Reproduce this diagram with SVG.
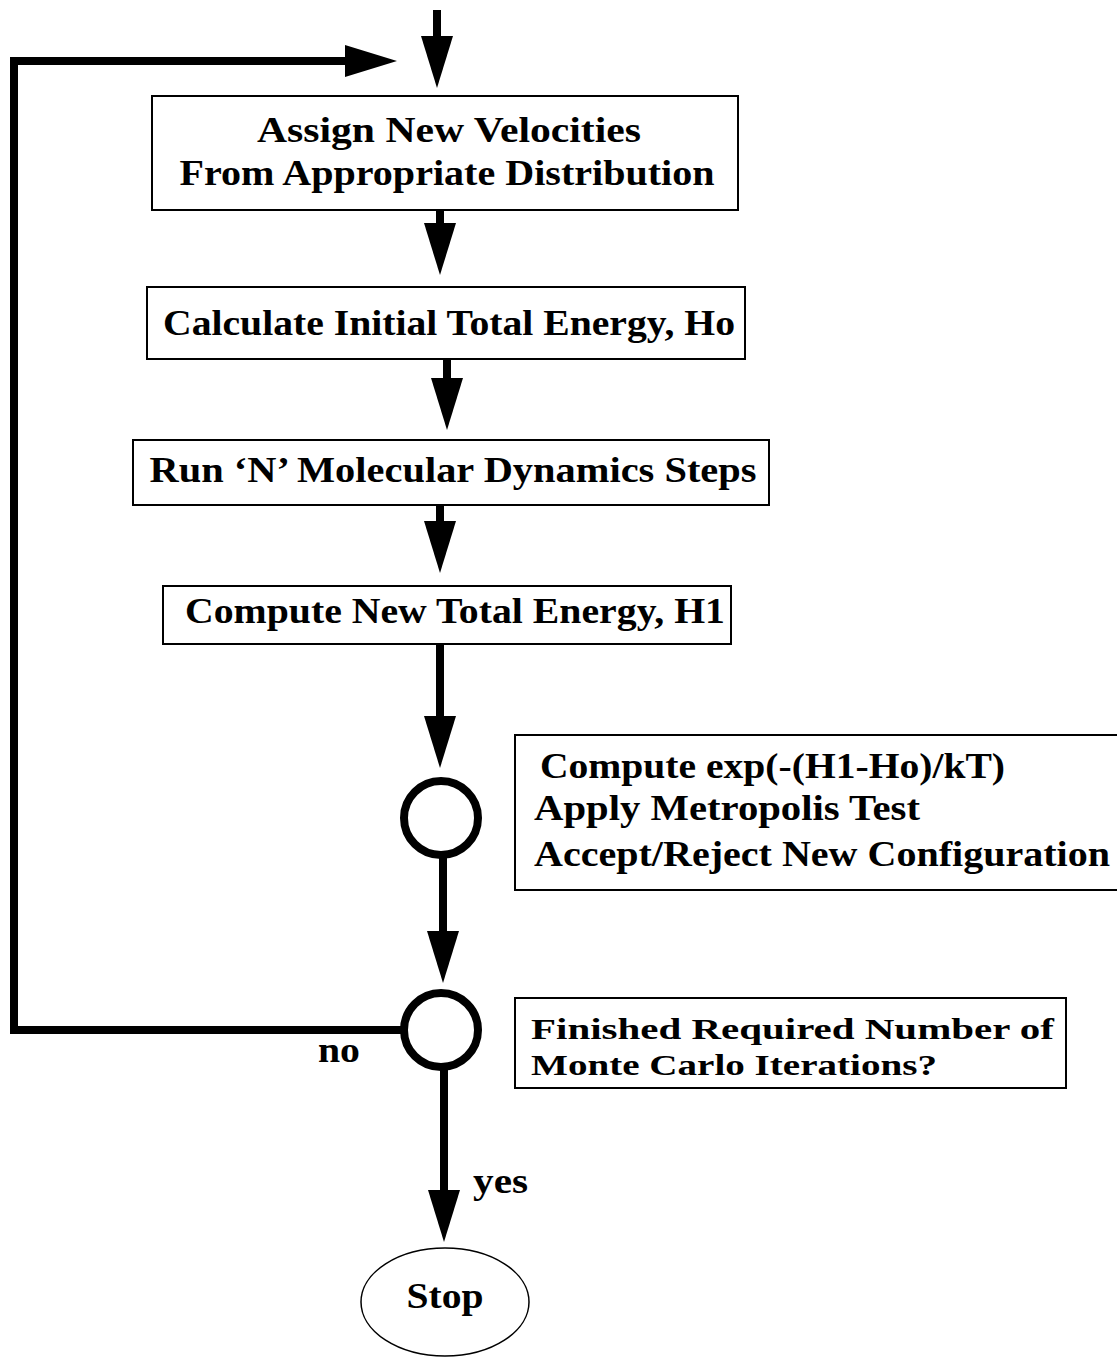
<svg xmlns="http://www.w3.org/2000/svg" width="1117" height="1357" viewBox="0 0 1117 1357">
<style>
  .box { fill: #fff; stroke: #000; stroke-width: 2; }
  .t { font-family: "Liberation Serif", "Times New Roman", serif; font-weight: bold; font-size: 35px; fill: #000; }
  .s { font-size: 30px; }
  .c { text-anchor: middle; }
  .ln { fill: none; stroke: #000; stroke-width: 8; stroke-linejoin: miter; }
  .dec { fill: #fff; stroke: #000; stroke-width: 8; }
</style>
<defs>
  <marker id="ah" markerUnits="userSpaceOnUse" markerWidth="54" markerHeight="34" refX="22" refY="16" orient="auto" viewBox="0 0 54 34">
    <path d="M0,0 L52,16 L0,32 Z" fill="#000"/>
  </marker>
</defs>
<rect width="1117" height="1357" fill="#fff"/>
<g id="connectors">
  <line class="ln" x1="437" y1="10" x2="437" y2="58" marker-end="url(#ah)"/>
  <path class="ln" d="M402,1030 H14 V61 H367" marker-end="url(#ah)"/>
  <line class="ln" x1="440" y1="210" x2="440" y2="245" marker-end="url(#ah)"/>
  <line class="ln" x1="447" y1="359" x2="447" y2="400" marker-end="url(#ah)"/>
  <line class="ln" x1="440" y1="505" x2="440" y2="543" marker-end="url(#ah)"/>
  <line class="ln" x1="440" y1="644" x2="440" y2="738" marker-end="url(#ah)"/>
  <line class="ln" x1="443" y1="855" x2="443" y2="953" marker-end="url(#ah)"/>
  <line class="ln" x1="444" y1="1067" x2="444" y2="1212" marker-end="url(#ah)"/>
  <text class="t" x="318" y="1062" textLength="42" lengthAdjust="spacingAndGlyphs">no</text>
  <text class="t" x="473" y="1193" textLength="55" lengthAdjust="spacingAndGlyphs">yes</text>
</g>
<g id="n1">
  <rect class="box" x="152" y="96" width="586" height="114"/>
  <text class="t c" x="449" y="142" textLength="384" lengthAdjust="spacingAndGlyphs">Assign New Velocities</text>
  <text class="t c" x="447" y="185" textLength="535" lengthAdjust="spacingAndGlyphs">From Appropriate Distribution</text>
</g>
<g id="n2">
  <rect class="box" x="147" y="287" width="598" height="72"/>
  <text class="t c" x="449" y="335" textLength="572" lengthAdjust="spacingAndGlyphs">Calculate Initial Total Energy, Ho</text>
</g>
<g id="n3">
  <rect class="box" x="133" y="440" width="636" height="65"/>
  <text class="t c" x="453" y="482" textLength="607" lengthAdjust="spacingAndGlyphs">Run ‘N’ Molecular Dynamics Steps</text>
</g>
<g id="n4">
  <rect class="box" x="163" y="586" width="568" height="58"/>
  <text class="t c" x="455" y="623" textLength="540" lengthAdjust="spacingAndGlyphs">Compute New Total Energy, H1</text>
</g>
<g id="d1">
  <circle class="dec" cx="441" cy="818" r="37"/>
</g>
<g id="n5">
  <rect class="box" x="515" y="735" width="604" height="155"/>
  <text class="t" x="540" y="778" textLength="465" lengthAdjust="spacingAndGlyphs">Compute exp(-(H1-Ho)/kT)</text>
  <text class="t" x="534" y="820" textLength="386" lengthAdjust="spacingAndGlyphs">Apply Metropolis Test</text>
  <text class="t" x="534" y="866" textLength="576" lengthAdjust="spacingAndGlyphs">Accept/Reject New Configuration</text>
</g>
<g id="d2">
  <circle class="dec" cx="441" cy="1030" r="37"/>
</g>
<g id="n6">
  <rect class="box" x="515" y="998" width="551" height="90"/>
  <text class="t s" x="531" y="1039" textLength="523" lengthAdjust="spacingAndGlyphs">Finished Required Number of</text>
  <text class="t s" x="531" y="1075" textLength="406" lengthAdjust="spacingAndGlyphs">Monte Carlo Iterations?</text>
</g>
<g id="stop">
  <ellipse cx="445" cy="1302" rx="84" ry="54" fill="#fff" stroke="#000" stroke-width="1.5"/>
  <text class="t c" x="445" y="1308" textLength="77" lengthAdjust="spacingAndGlyphs">Stop</text>
</g>
</svg>
